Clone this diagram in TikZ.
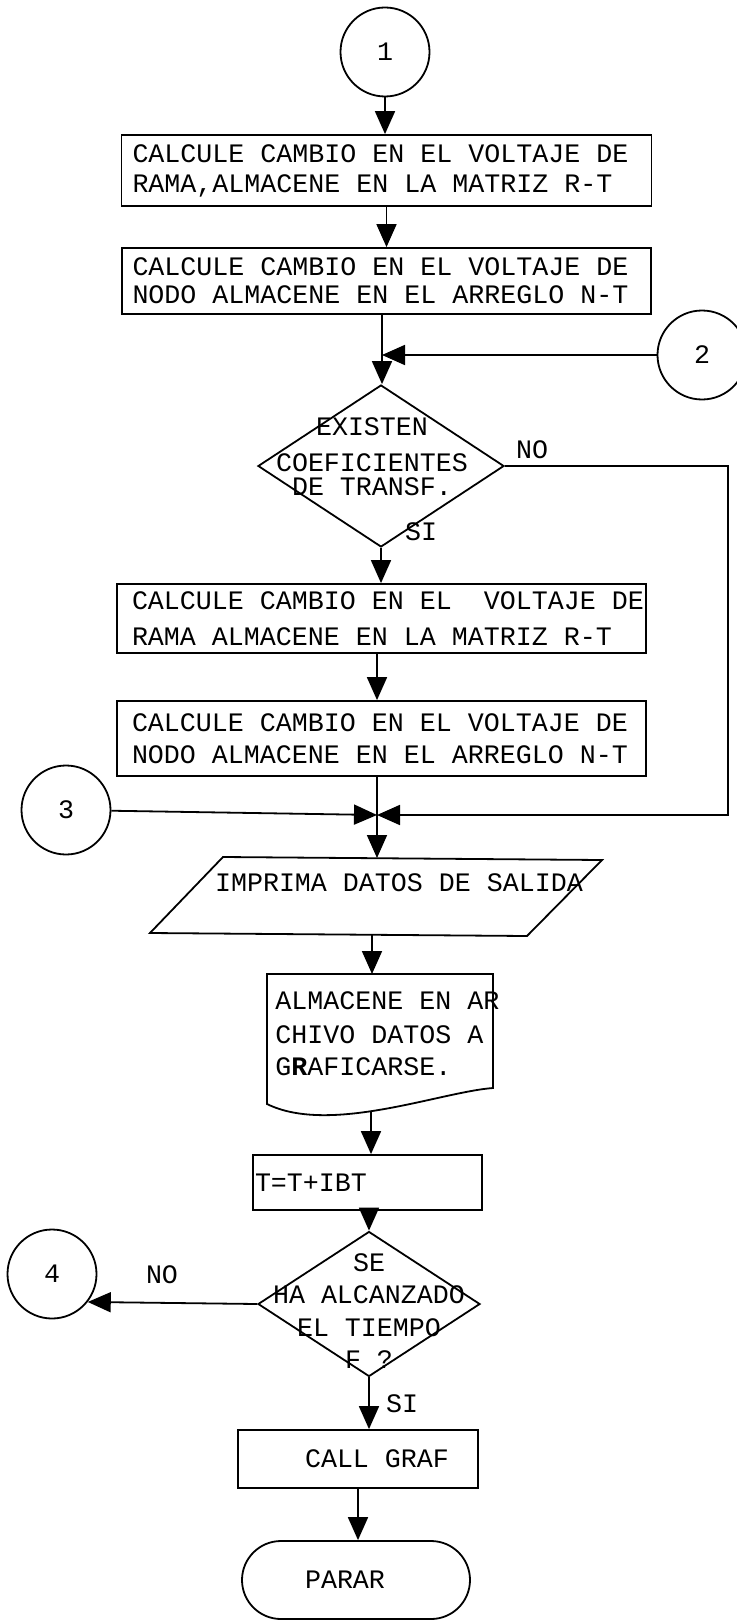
\documentclass[tikz,border=0pt]{standalone}
\usepackage{fontspec}
\setmainfont{Liberation Mono}[WordSpace={1,0,0}]
\usetikzlibrary{arrows.meta,shapes.geometric}
\begin{document}
\begin{tikzpicture}[x=0.5pt,y=-0.5pt,
  every node/.style={font=\fontsize{13.33pt}{15pt}\selectfont,
    execute at begin node={\spaceskip=8pt plus 0pt minus 0pt\relax\xspaceskip=8pt\relax}},
  ln/.style={line width=0.9pt},
  arr/.style={ln,-{Triangle[length=11.5pt,width=10pt]}},
  box/.style={draw,ln,rectangle,inner sep=0pt,align=left},
  conn/.style={draw,ln,circle,minimum size=44.5pt,inner sep=0pt},
  dec/.style={draw,ln,diamond,inner sep=0pt},
  lbl/.style={inner sep=0pt}]
\fill[white] (0,0) rectangle (736,1621);
\useasboundingbox (0,0) rectangle (736,1621);

% nodes
\node[conn] (c1) at (385,52) {1};
\node[box,minimum width=265pt,minimum height=35.5pt,text width=254pt] (b1) at (386.5,170.5)
  {\mbox{CALCULE CAMBIO EN EL VOLTAJE DE}\\\mbox{RAMA,ALMACENE EN LA MATRIZ R-T}};
\node[box,minimum width=264.5pt,minimum height=33pt,text width=254pt] (b2) at (386.5,281)
  {\mbox{CALCULE CAMBIO EN EL VOLTAJE DE}\\[-1pt]\mbox{NODO ALMACENE EN EL ARREGLO N-T}};
\coordinate (j1) at (382,354);
\node[conn] (c2) at (702,355) {2};
\node[dec,minimum width=123pt,minimum height=81pt] (d1) at (381,466) {};
\node[lbl,align=center] (d1t) at (372,457) {EXISTEN\\[3pt]COEFICIENTES\\[-3pt]DE TRANSF.};
\node[lbl] (no1) at (532,450) {NO};
\node[lbl] (si1) at (421,532) {SI};
\node[box,minimum width=264.5pt,minimum height=34.5pt,text width=249.5pt] (b3) at (381.5,618.5)
  {\mbox{CALCULE CAMBIO EN EL\ \ VOLTAJE DE}\\[3pt]\mbox{RAMA ALMACENE EN LA MATRIZ R-T}};
\node[box,minimum width=264.5pt,minimum height=37.5pt,text width=249.5pt] (b4) at (381.5,738.5)
  {\mbox{CALCULE CAMBIO EN EL VOLTAJE DE}\\[1pt]\mbox{NODO ALMACENE EN EL ARREGLO N-T}};
\node[conn] (c3) at (66,810) {3};
\coordinate (j2) at (377,815);
\coordinate (k2) at (728,815);
% parallelogram (input/output)
\coordinate (p1) at (150,933);
\coordinate (p2) at (223,857);
\coordinate (p3) at (602,860);
\coordinate (p4) at (527,936);
\draw[ln] (p1) -- (p2) -- (p3) -- (p4) -- cycle;
\coordinate (partop) at (377,858);
\coordinate (parbot) at (372,935);
\node[lbl] (part) at (399,883) {IMPRIMA DATOS DE SALIDA};
% document shape
\draw[ln] (267,974) -- (493,974) -- (493,1088)
  .. controls (440,1092) and (330,1135) .. (267,1104) -- cycle;
\coordinate (doctop) at (372,974);
\coordinate (docb) at (371,1111);
\node[lbl,align=left,anchor=west] (doct) at (275,1034)
  {ALMACENE EN AR\\[2pt]CHIVO DATOS A\\[1pt]G\textbf{R}AFICARSE.};
\node[box,minimum width=114.5pt,minimum height=27.5pt,text width=112.5pt] (bT) at (367.5,1182.5) {T=T+IBT};
\node[dec,minimum width=111pt,minimum height=72.5pt] (d2) at (369,1304) {};
\node[lbl,align=center] (d2t) at (369,1311) {SE\\[1.3pt]HA ALCANZADO\\[1.3pt]EL TIEMPO\\[1.3pt]F ?};
\node[conn] (c4) at (52,1274) {4};
\node[lbl] (no2) at (162,1275) {NO};
\node[lbl] (si2) at (402,1404) {SI};
\node[box,minimum width=120pt,minimum height=29pt] (bC) at (358,1459) {\hspace*{19pt}CALL GRAF};
\node[draw,ln,rounded corners=19.5pt,minimum width=114pt,minimum height=39pt,inner sep=0pt] (stop) at (356,1580) {PARAR\hspace*{11pt}};

% connectors
\draw[arr] (c1.south) -- (c1.south |- b1.north);
\draw[arr] (b1.south) -- (b1.south |- b2.north);
\draw[ln] (j1 |- b2.south) -- (j1);
\draw[arr] (c2.west) -- (j1 |- c2.west);
\draw[arr] (j1) -- (j1 |- d1.north);
\draw[arr] (d1.south) -- (d1.south |- b3.north);
\draw[arr] (b3.south -| j2) -- (j2 |- b4.north);
\draw[ln] (j2 |- b4.south) -- (j2);
\draw[arr] (d1.east) -| (k2) -- (j2);
\draw[arr] (c3) -- (j2);
\draw[arr] (j2) -- (partop);
\draw[arr] (parbot) -- (doctop);
\draw[arr] (docb) -- (docb |- bT.north);
\draw[arr] (d2.north |- bT.south) -- (d2.north);
\draw[arr] (d2.west) -- (c4.-38);
\draw[arr] (d2.south) -- (d2.south |- bC.north);
\draw[arr] (bC.south) -- (bC.south |- stop.north);
\end{tikzpicture}
\end{document}
